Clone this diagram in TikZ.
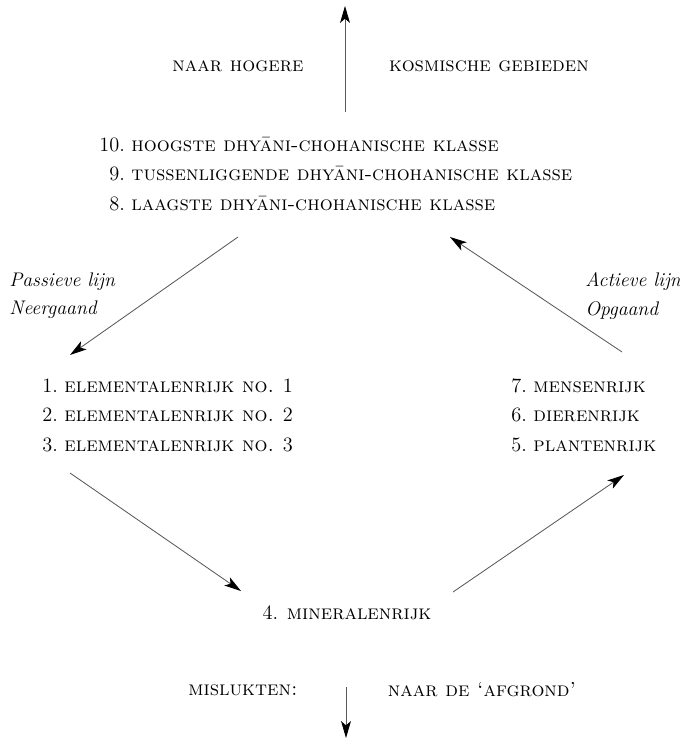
\documentclass[tikz,border=0pt]{standalone}
\usepackage{fontspec}
\usetikzlibrary{arrows.meta}

\tikzset{
  pijl/.style={draw=black!65, line width=0.6pt, -{Stealth[length=12pt,width=7pt,inset=3pt,color=black]}},
  tekst/.style={inner sep=0pt, font=\fontsize{14.5}{21}\selectfont},
  lijn/.style={inner sep=0pt, align=left, font=\fontsize{14}{20}\selectfont\itshape}
}

\begin{document}
\begin{tikzpicture}[x=0.025cm, y=-0.025cm]

\useasboundingbox (0,0) rectangle (679,740);

% bovenkant
\node[tekst](hoger) at (238,66) {\textsc{naar hogere}};
\node[tekst](kosmisch) at (489,66) {\textsc{kosmische gebieden}};

\node[tekst, anchor=west](dhyani) at (99,175) {%
  \begin{tabular}{@{}r@{\ }l@{}}
  10. & \textsc{hoogste dhyāni-chohanische klasse}\\
  9. & \textsc{tussenliggende dhyāni-chohanische klasse}\\
  8. & \textsc{laagste dhyāni-chohanische klasse}
  \end{tabular}};

% zijkanten
\node[lijn, anchor=west](passief) at (9,296) {Passieve lijn\\Neergaand};
\node[lijn, anchor=west](actief) at (585,296) {Actieve lijn\\Opgaand};

\node[tekst, anchor=west](element) at (42,416) {%
  \begin{tabular}{@{}r@{\ }l@{}}
  1. & \textsc{elementalenrijk no.} 1\\
  2. & \textsc{elementalenrijk no.} 2\\
  3. & \textsc{elementalenrijk no.} 3
  \end{tabular}};

\node[tekst, anchor=west](rijken) at (511,416) {%
  \begin{tabular}{@{}r@{\ }l@{}}
  7. & \textsc{mensenrijk}\\
  6. & \textsc{dierenrijk}\\
  5. & \textsc{plantenrijk}
  \end{tabular}};

% onderkant
\node[tekst](mineraal) at (347,613) {4. \textsc{mineralenrijk}};
\node[tekst](mislukt) at (243,690) {\textsc{mislukten:}};
\node[tekst](afgrond) at (482,690) {\textsc{naar de `afgrond'}};

% eindpunten van de pijlen
\coordinate (top0) at (345,112);
\coordinate (top1) at (345,6);
\coordinate (ld0) at (238,237);
\coordinate (ld1) at (70,355);
\coordinate (rd0) at (622,352);
\coordinate (rd1) at (450,237);
\coordinate (lo0) at (70,473);
\coordinate (lo1) at (241,591);
\coordinate (ro0) at (453,592);
\coordinate (ro1) at (624,475);
\coordinate (bot0) at (346,687);
\coordinate (bot1) at (346,738);

\draw[pijl] (top0) -- (top1);
\draw[pijl] (ld0) -- (ld1);
\draw[pijl] (rd0) -- (rd1);
\draw[pijl] (lo0) -- (lo1);
\draw[pijl] (ro0) -- (ro1);
\draw[pijl] (bot0) -- (bot1);

\end{tikzpicture}
\end{document}
